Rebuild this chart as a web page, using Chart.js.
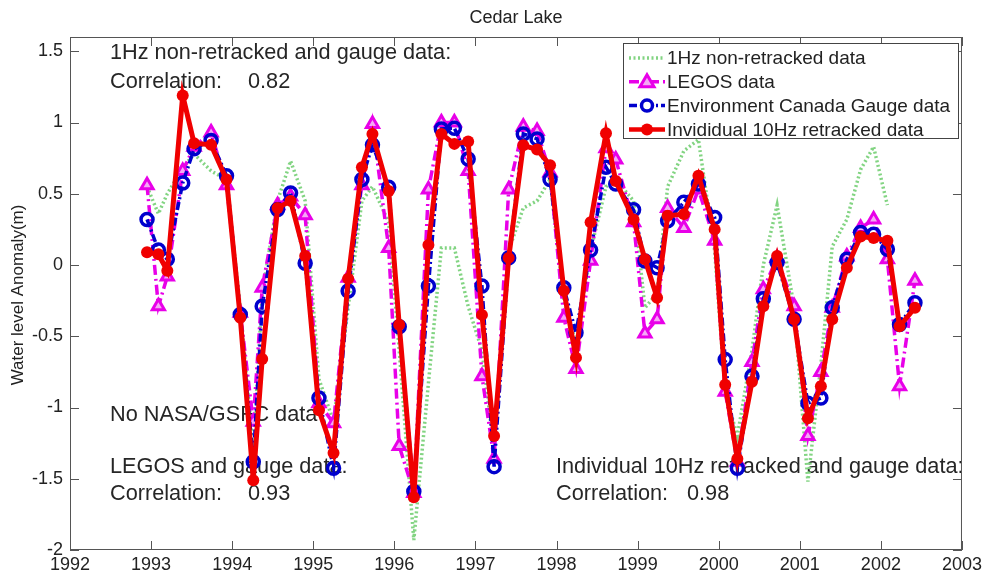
<!DOCTYPE html>
<html>
<head>
<meta charset="utf-8">
<script src="https://cdn.jsdelivr.net/npm/chart.js@4.4.0/dist/chart.umd.min.js"></script>
<style>
  html, body { margin: 0; padding: 0; background: #fff; }
</style>
</head>
<body>
<canvas id="cedarChart" width="986" height="577"></canvas>
<script>
// sample times (decimal years) shared by all series
const sampleYears = [1992.95, 1993.09, 1993.20, 1993.39, 1993.53, 1993.74, 1993.93, 1994.10, 1994.26, 1994.37,
  1994.56, 1994.72, 1994.90, 1995.07, 1995.25, 1995.43, 1995.60, 1995.73, 1995.93, 1996.06,
  1996.24, 1996.42, 1996.58, 1996.74, 1996.91, 1997.08, 1997.23, 1997.41, 1997.59, 1997.76,
  1997.92, 1998.09, 1998.24, 1998.42, 1998.61, 1998.73, 1998.95, 1999.09, 1999.24, 1999.37,
  1999.57, 1999.75, 1999.95, 2000.08, 2000.23, 2000.41, 2000.55, 2000.72, 2000.93, 2001.10,
  2001.26, 2001.40, 2001.58, 2001.75, 2001.91, 2002.08, 2002.23, 2002.42];

const nonRetracked1Hz = [0.55, 0.36, 0.50, 0.68, 0.78, 0.66, 0.60, -0.30, -1.30, -0.20,
  0.45, 0.73, 0.45, -0.80, -1.10, -0.30, 0.45, 0.55, 0.30, -0.60,
  -1.93, -0.83, 0.12, 0.12, -0.29, -0.60, -1.30, 0.10, 0.40, 0.45,
  0.60, -0.25, -0.55, 0.10, 0.55, 0.60, 0.45, -0.30, -0.20, 0.55,
  0.80, 0.88, 0.10, -0.90, -1.20, -0.60, 0.00, 0.42, -0.30, -1.52,
  -0.70, 0.13, 0.32, 0.67, 0.83, 0.42, null, null];

const legosData = [0.56, -0.29, -0.08, 0.66, 0.83, 0.93, 0.56, -0.335, -1.10, -0.16,
  0.42, 0.48, 0.35, -0.97, -1.11, -0.09, 0.56, 0.99, 0.12, -1.27,
  -1.60, 0.53, 1.00, 1.00, 0.66, -0.78, -1.36, 0.53, 0.97, 0.94,
  0.65, -0.37, -0.73, 0.03, 0.82, 0.74, 0.30, -0.48, -0.38, 0.40,
  0.26, 0.53, 0.17, -0.89, -1.38, -0.68, -0.17, 0.05, -0.29, -1.20,
  -0.75, -0.30, 0.06, 0.26, 0.32, 0.04, -0.85, -0.11];

const gaugeData = [0.32, 0.105, 0.04, 0.575, 0.815, 0.873, 0.627, -0.347, -1.38, -0.29,
  0.39, 0.505, 0.012, -0.934, -1.427, -0.183, 0.60, 0.843, 0.545, -0.434,
  -1.59, -0.148, 0.955, 0.96, 0.744, -0.148, -1.415, 0.05, 0.92, 0.885,
  0.60, -0.16, -0.476, 0.105, 0.686, 0.568, 0.387, 0.028, -0.019, 0.31,
  0.44, 0.568, 0.334, -0.664, -1.427, -0.78, -0.237, 0.017, -0.38, -0.97,
  -0.934, -0.30, 0.04, 0.228, 0.216, 0.11, -0.418, -0.265];

const retracked10Hz = [0.09, 0.075, -0.04, 1.19, 0.855, 0.843, 0.60, -0.37, -1.51, -0.66,
  0.40, 0.45, 0.063, -1.02, -1.32, -0.096, 0.686, 0.92, 0.52, -0.42,
  -1.63, 0.14, 0.92, 0.85, 0.866, -0.35, -1.20, 0.05, 0.84, 0.81,
  0.70, -0.18, -0.65, 0.30, 0.925, 0.59, 0.32, 0.04, -0.23, 0.345,
  0.357, 0.627, 0.25, -0.84, -1.36, -0.82, -0.29, 0.063, -0.38, -1.075,
  -0.85, -0.38, -0.02, 0.20, 0.19, 0.17, -0.43, -0.30];

const seriesNames = ['1Hz non-retracked data', 'LEGOS data', 'Environment Canada Gauge data', 'Invididual 10Hz retracked data'];
const yearTicks = [1992, 1993, 1994, 1995, 1996, 1997, 1998, 1999, 2000, 2001, 2002, 2003];
const levelTicks = [-2, -1.5, -1, -0.5, 0, 0.5, 1, 1.5];

const FONT = "'Liberation Sans', Arial, sans-serif";
const GREEN = 'rgb(130,212,130)';
const MAGENTA = 'rgb(232,0,232)';
const BLUE = 'rgb(0,0,205)';
const RED = 'rgb(240,0,0)';

function toPoints(values) {
  return sampleYears.map((yr, i) => ({ x: yr, y: values[i] }));
}

// draws the marker used in the legend
function drawMarker(ctx, kind, x, y) {
  ctx.save();
  if (kind === 'triangle') {
    ctx.beginPath();
    ctx.moveTo(x, y - 7);
    ctx.lineTo(x + 7, y + 5);
    ctx.lineTo(x - 7, y + 5);
    ctx.closePath();
    ctx.fillStyle = '#f5a8f5';
    ctx.strokeStyle = MAGENTA;
    ctx.lineWidth = 3;
    ctx.fill();
    ctx.stroke();
  } else if (kind === 'hollow') {
    ctx.beginPath();
    ctx.arc(x, y, 5.5, 0, Math.PI * 2);
    ctx.fillStyle = '#fff';
    ctx.strokeStyle = BLUE;
    ctx.lineWidth = 3.5;
    ctx.fill();
    ctx.stroke();
  } else if (kind === 'filled') {
    ctx.beginPath();
    ctx.arc(x, y, 6, 0, Math.PI * 2);
    ctx.fillStyle = RED;
    ctx.fill();
  }
  ctx.restore();
}

const matlabFrame = {
  id: 'matlabFrame',
  beforeDatasetsDraw(chart) {
    const ctx = chart.ctx;
    ctx.save();
    ctx.fillStyle = '#262626';
    ctx.font = '21.7px ' + FONT;
    ctx.textBaseline = 'middle';
    ctx.textAlign = 'left';
    ctx.fillText('1Hz non-retracked and gauge data:', 110, 53);
    ctx.fillText('Correlation:', 110, 82);
    ctx.fillText('0.82', 248, 82);
    ctx.fillText('No NASA/GSFC data', 110, 415);
    ctx.fillText('LEGOS and gauge data:', 110, 467);
    ctx.fillText('Correlation:', 110, 494);
    ctx.fillText('0.93', 248, 494);
    ctx.fillText('Individual 10Hz retracked and gauge data:', 556, 467);
    ctx.fillText('Correlation:', 556, 494);
    ctx.fillText('0.98', 687, 494);
    ctx.restore();
  },
  afterDraw(chart) {
    const ctx = chart.ctx;
    const area = chart.chartArea;
    const xs = chart.scales.x;
    const ys = chart.scales.y;
    ctx.save();

    // box and inward ticks
    ctx.strokeStyle = '#555';
    ctx.lineWidth = 1;
    ctx.strokeRect(area.left + 0.5, area.top + 0.5, area.right - area.left - 1, area.bottom - area.top - 1);
    ctx.beginPath();
    yearTicks.forEach(t => {
      const px = Math.round(xs.getPixelForValue(t)) + 0.5;
      ctx.moveTo(px, area.bottom);
      ctx.lineTo(px, area.bottom - 9);
      ctx.moveTo(px, area.top);
      ctx.lineTo(px, area.top + 9);
    });
    levelTicks.forEach(t => {
      const py = Math.round(ys.getPixelForValue(t)) + 0.5;
      ctx.moveTo(area.left, py);
      ctx.lineTo(area.left + 9, py);
      ctx.moveTo(area.right, py);
      ctx.lineTo(area.right - 9, py);
    });
    ctx.stroke();

    // title and y label
    ctx.fillStyle = '#222';
    ctx.font = '18px ' + FONT;
    ctx.textAlign = 'center';
    ctx.textBaseline = 'middle';
    ctx.fillText('Cedar Lake', (area.left + area.right) / 2, 18);
    ctx.save();
    ctx.translate(18, 295);
    ctx.rotate(-Math.PI / 2);
    ctx.font = '17px ' + FONT;
    ctx.fillText('Water level Anomaly(m)', 0, 0);
    ctx.restore();

    // legend
    const lx = 623, ly = 43, lw = 335, lh = 95;
    ctx.fillStyle = '#fff';
    ctx.fillRect(lx, ly, lw, lh);
    ctx.strokeStyle = '#444';
    ctx.lineWidth = 1;
    ctx.strokeRect(lx + 0.5, ly + 0.5, lw, lh);
    const rows = [
      { dash: [2, 2.5], color: GREEN, width: 3.5, marker: null },
      { dash: [10, 4, 2, 4], color: MAGENTA, width: 3.5, marker: 'triangle' },
      { dash: [8, 3, 2, 3], color: BLUE, width: 3.5, marker: 'hollow' },
      { dash: [], color: RED, width: 4.5, marker: 'filled' }
    ];
    rows.forEach((r, i) => {
      const y = 58 + i * 23.8;
      ctx.save();
      ctx.strokeStyle = r.color;
      ctx.lineWidth = r.width;
      ctx.setLineDash(r.dash);
      ctx.beginPath();
      ctx.moveTo(629, y);
      ctx.lineTo(665, y);
      ctx.stroke();
      ctx.restore();
      if (r.marker) drawMarker(ctx, r.marker, 647, y);
      ctx.fillStyle = '#222';
      ctx.font = '19px ' + FONT;
      ctx.textAlign = 'left';
      ctx.textBaseline = 'middle';
      ctx.fillText(seriesNames[i], 667, y + 1);
    });
    ctx.restore();
  }
};

const chart = new Chart(document.getElementById('cedarChart'), {
  type: 'line',
  data: {
    datasets: [
      {
        label: seriesNames[0],
        data: toPoints(nonRetracked1Hz),
        borderColor: GREEN,
        borderWidth: 3.5,
        borderDash: [2, 2.5],
        pointRadius: 0,
        spanGaps: false,
        order: 4
      },
      {
        label: seriesNames[1],
        data: toPoints(legosData),
        borderColor: MAGENTA,
        borderWidth: 3.5,
        borderDash: [10, 4, 2, 4],
        pointStyle: 'triangle',
        pointRadius: 7,
        pointBorderWidth: 3,
        pointBorderColor: MAGENTA,
        pointBackgroundColor: '#f5a8f5',
        order: 3
      },
      {
        label: seriesNames[2],
        data: toPoints(gaugeData),
        borderColor: BLUE,
        borderWidth: 3.5,
        borderDash: [8, 3, 2, 3],
        pointStyle: 'circle',
        pointRadius: 6,
        pointBorderWidth: 3.5,
        pointBorderColor: BLUE,
        pointBackgroundColor: 'rgba(255,255,255,0)',
        order: 2
      },
      {
        label: seriesNames[3],
        data: toPoints(retracked10Hz),
        borderColor: RED,
        borderWidth: 5,
        pointStyle: 'circle',
        pointRadius: 6,
        pointBorderWidth: 0,
        pointBackgroundColor: RED,
        order: 1
      }
    ]
  },
  options: {
    responsive: false,
    animation: false,
    events: [],
    layout: { padding: { left: 0, top: 37, right: 24, bottom: 0 } },
    elements: { line: { tension: 0 } },
    plugins: { legend: { display: false }, tooltip: { enabled: false }, title: { display: false } },
    scales: {
      x: {
        type: 'linear',
        min: yearTicks[0],
        max: yearTicks[yearTicks.length - 1],
        afterFit: s => { s.height = 27; },
        afterBuildTicks: s => { s.ticks = yearTicks.map(v => ({ value: v })); },
        grid: { display: false, drawTicks: false },
        border: { display: false },
        ticks: {
          color: '#222',
          font: { family: FONT, size: 18 },
          padding: 4,
          maxRotation: 0,
          autoSkip: false,
          callback: v => String(v)
        }
      },
      y: {
        type: 'linear',
        min: -2,
        max: 1.6,
        afterFit: s => { s.width = 70; },
        afterBuildTicks: s => { s.ticks = levelTicks.map(v => ({ value: v })); },
        grid: { display: false, drawTicks: false },
        border: { display: false },
        ticks: {
          color: '#222',
          font: { family: FONT, size: 18 },
          padding: 7,
          autoSkip: false,
          callback: v => String(Math.round(v * 10) / 10)
        }
      }
    }
  },
  plugins: [matlabFrame]
});
</script>
</body>
</html>
